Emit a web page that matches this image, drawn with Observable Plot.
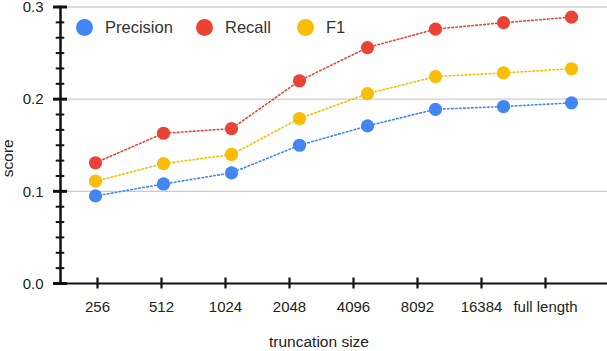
<!DOCTYPE html>
<html><head><meta charset="utf-8">
<script src="https://cdn.jsdelivr.net/npm/d3@7"></script>
<script src="https://cdn.jsdelivr.net/npm/@observablehq/plot@0.6"></script>
<style>
body{margin:0;background:#fff;font-family:Arial,"Liberation Sans",sans-serif;}
#chart{position:relative;width:607px;height:351px;}
#chart svg{position:absolute;left:0;top:0;}
.lg{position:absolute;top:18px;height:18px;display:flex;align-items:center;font-size:16.5px;color:#333;white-space:nowrap;}
.lg span.c{display:inline-block;width:17px;height:17px;border-radius:50%;margin-right:12px;}
</style></head><body><div id="chart"></div>
<script>
const sizes = ["256","512","1024","2048","4096","8092","16384","full length"];
const precision = [0.095,0.108,0.120,0.150,0.171,0.189,0.192,0.196];
const recall    = [0.131,0.163,0.168,0.220,0.256,0.276,0.283,0.289];
const f1        = [0.111,0.130,0.140,0.179,0.206,0.2245,0.2285,0.233];
const seriesNames  = ["Precision","Recall","F1"];
const seriesColors = ["#4285F4","#EA4335","#FBBC04"];
const yMajorTicks = [0, 0.1, 0.2, 0.3];
const yMinorTicks = d3.range(1, 18).filter(i => i % 6 !== 0).map(i => i / 60);

const seriesValues = [precision, recall, f1];
const rows = seriesNames.flatMap((s, k) => sizes.map((size, i) => ({series: s, size, value: seriesValues[k][i]})));

const W = 607, H = 351, ML = 60, MR = 0, MT = 6.5, MB = 68;
const frameW = W - ML - MR, frameH = H - MT - MB;
const font = 'Arial, "Liberation Sans", sans-serif';
const common = {
  width: W, height: H,
  marginLeft: ML, marginRight: MR, marginTop: MT, marginBottom: MB,
  style: {background: "transparent", fontFamily: font, fontSize: "15px", color: "#222", overflow: "visible"},
};

const axes = Plot.plot({
  ...common,
  x: {type: "point", domain: sizes, range: [93.3, 548.3], padding: 0, axis: null},
  y: {domain: [0, 0.3], axis: null},
  marks: [
    Plot.ruleY(yMajorTicks.slice(1), {y: d => d, stroke: "#cccccc", strokeWidth: 1.3}),
    Plot.frame({anchor: "left", stroke: "#111", strokeWidth: 2.5}),
    Plot.ruleY([0], {y: d => d, stroke: "#111", strokeWidth: 2}),
    Plot.tickY(yMinorTicks, {y: d => d, insetRight: frameW - 8.5, dx: -4.25, stroke: "#111", strokeWidth: 2}),
    Plot.tickY(yMajorTicks, {y: d => d, insetRight: frameW - 14, dx: -7, stroke: "#111", strokeWidth: 3}),
    Plot.text(yMajorTicks, {y: d => d, text: d3.format(".1f"), frameAnchor: "left", dx: -17, dy: 0.5, textAnchor: "end", lineAnchor: "middle", fontSize: 15, fill: "#222"}),
    Plot.tickX(sizes, {x: d => d, insetTop: frameH - 11, dy: 5.5, stroke: "#111", strokeWidth: 2.2}),
    Plot.text(sizes, {x: d => d, frameAnchor: "bottom", dy: 24, lineAnchor: "middle", fontSize: 15, fill: "#222"}),
    Plot.text(["score"], {frameAnchor: "left", rotate: -90, dx: -52, dy: 13, fontSize: 15.5, fill: "#222", textAnchor: "middle", lineAnchor: "middle"}),
    Plot.text(["truncation size"], {frameAnchor: "bottom", dx: -15, dy: 59, fontSize: 15.5, fill: "#222", textAnchor: "middle", lineAnchor: "middle"})
  ]
});

const dataPlot = Plot.plot({
  ...common,
  x: {type: "point", domain: sizes, range: [94.3, 572], padding: 0, axis: null},
  y: {domain: [0, 0.3], axis: null},
  color: {domain: seriesNames, range: seriesColors},
  marks: [
    Plot.line(rows, {x: "size", y: "value", z: "series", stroke: "series", strokeWidth: 1.6, strokeDasharray: "1.6,2.4"}),
    Plot.dot(rows, {x: "size", y: "value", fill: "series", r: 6.6})
  ]
});

const chart = document.getElementById("chart");
chart.appendChild(axes);
chart.appendChild(dataPlot);

const legendLeft = [76, 196, 297];
seriesNames.forEach((s, k) => {
  const d = document.createElement("div");
  d.className = "lg";
  d.style.left = legendLeft[k] + "px";
  const c = document.createElement("span");
  c.className = "c";
  c.style.background = seriesColors[k];
  d.appendChild(c);
  d.appendChild(document.createTextNode(s));
  chart.appendChild(d);
});
</script>
</body></html>
